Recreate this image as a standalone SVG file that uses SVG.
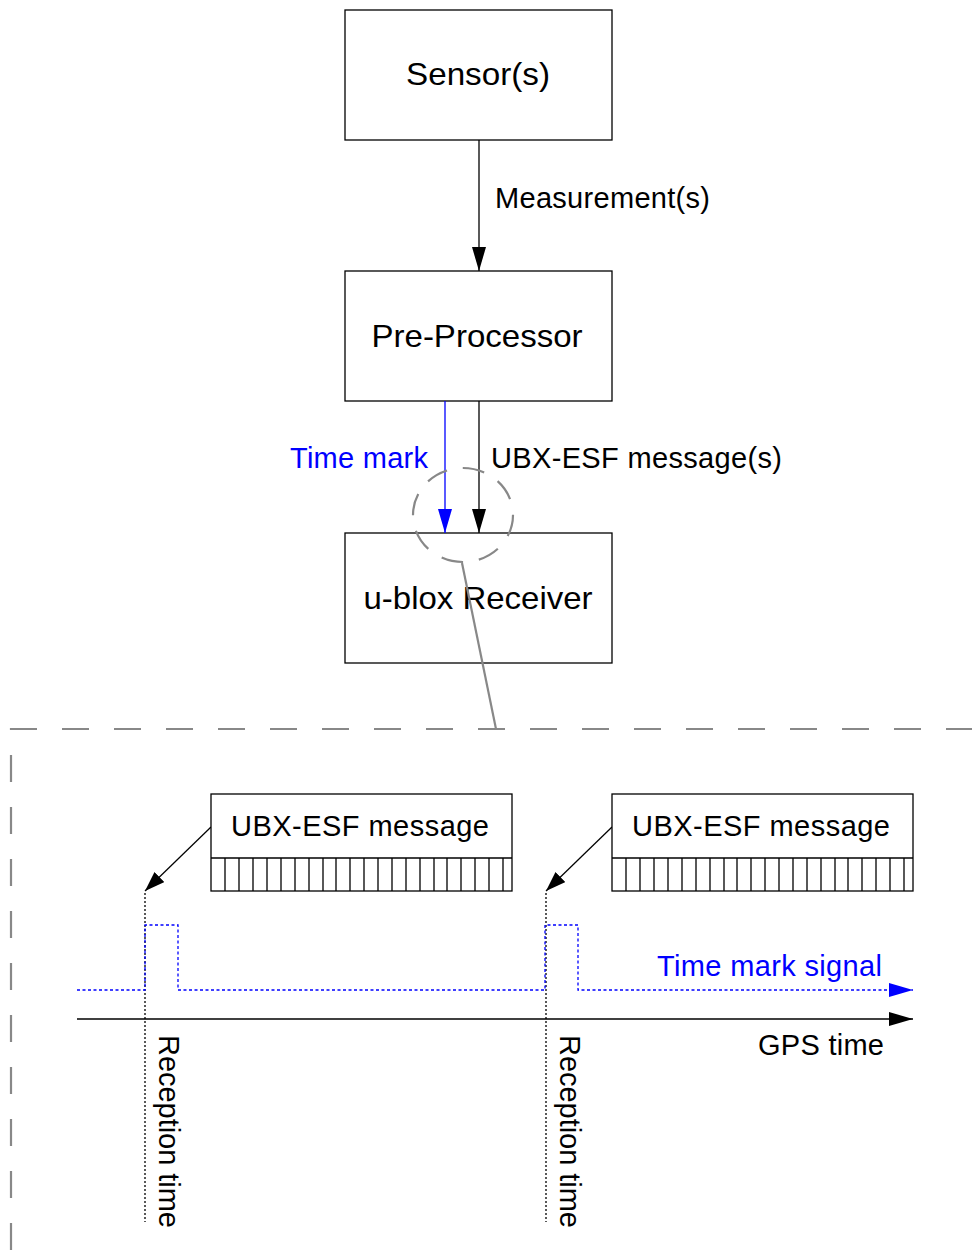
<svg xmlns="http://www.w3.org/2000/svg" width="972" height="1250" viewBox="0 0 972 1250">
<style>
text{font-family:"Liberation Sans",Arial,sans-serif;font-size:29px;fill:#000}
.big{font-size:32px}
.blue{fill:#0000ff}
.box{fill:#fff;stroke:#000;stroke-width:1.3}
.ln{stroke:#000;stroke-width:1.3;fill:none}
.gray{stroke:#888;stroke-width:2.2;fill:none}
.dotk{stroke:#000;stroke-width:1.3;stroke-dasharray:2 2;fill:none}
.dotb{stroke:#0000ff;stroke-width:1.3;stroke-dasharray:3 2.5;fill:none}
</style>
<defs>
<marker id="ak" markerWidth="24" markerHeight="14" refX="24" refY="7" orient="auto" markerUnits="userSpaceOnUse"><path d="M0,0 L24,7 L0,14 Z" fill="#000"/></marker>
<marker id="ab" markerWidth="24" markerHeight="14" refX="24" refY="7" orient="auto" markerUnits="userSpaceOnUse"><path d="M0,0 L24,7 L0,14 Z" fill="#0000ff"/></marker>
<marker id="ak2" markerWidth="20" markerHeight="14" refX="20" refY="7" orient="auto" markerUnits="userSpaceOnUse"><path d="M0,0 L20,7 L0,14 Z" fill="#000"/></marker>
</defs>

<g id="sensors">
<rect class="box" x="345" y="10" width="267" height="130"/>
<text class="big" x="478" y="85" text-anchor="middle" textLength="144" lengthAdjust="spacingAndGlyphs">Sensor(s)</text>
</g>
<g id="preprocessor">
<rect class="box" x="345" y="271" width="267" height="130"/>
<text class="big" x="477" y="347" text-anchor="middle" textLength="211" lengthAdjust="spacingAndGlyphs">Pre-Processor</text>
</g>
<g id="receiver">
<rect class="box" x="345" y="533" width="267" height="130"/>
<text class="big" x="478" y="609" text-anchor="middle" textLength="229" lengthAdjust="spacingAndGlyphs">u-blox Receiver</text>
</g>

<g id="connectors">
<line class="ln" x1="479" y1="140" x2="479" y2="271" marker-end="url(#ak)"/>
<line x1="445" y1="401" x2="445" y2="533" stroke="#0000ff" stroke-width="1.3" marker-end="url(#ab)"/>
<line class="ln" x1="479" y1="401" x2="479" y2="533" marker-end="url(#ak)"/>
<line class="ln" x1="211" y1="827" x2="145" y2="891" marker-end="url(#ak2)"/>
<line class="ln" x1="612" y1="827" x2="546" y2="891" marker-end="url(#ak2)"/>
</g>
<g id="labels">
<text x="495" y="208" textLength="215" lengthAdjust="spacing">Measurement(s)</text>
<text class="blue" x="290" y="468" textLength="138" lengthAdjust="spacing">Time mark</text>
<text x="491" y="468" textLength="291" lengthAdjust="spacing">UBX-ESF message(s)</text>
</g>

<g id="detail-frame">
<path class="gray" d="M11,1250 V729 H972" stroke-dasharray="27 25"/>
<ellipse class="gray" cx="463" cy="515" rx="50" ry="47" stroke-dasharray="22 16"/>
<line class="gray" x1="462" y1="563" x2="496" y2="729"/>
</g>

<g id="message1">
<rect class="box" x="211" y="794" width="301" height="97"/>
<line class="ln" x1="211" y1="858" x2="512" y2="858"/>
<path class="ln" d="M225,858V891M239,858V891M253,858V891M267,858V891M281,858V891M295,858V891M309,858V891M323,858V891M336,858V891M350,858V891M364,858V891M378,858V891M392,858V891M406,858V891M420,858V891M434,858V891M447,858V891M461,858V891M475,858V891M489,858V891M503,858V891"/>
<text x="231" y="836" textLength="258" lengthAdjust="spacing">UBX-ESF message</text>
</g>
<g id="message2">
<rect class="box" x="612" y="794" width="301" height="97"/>
<line class="ln" x1="612" y1="858" x2="913" y2="858"/>
<path class="ln" d="M626,858V891M640,858V891M654,858V891M668,858V891M682,858V891M696,858V891M710,858V891M724,858V891M737,858V891M751,858V891M765,858V891M779,858V891M793,858V891M807,858V891M821,858V891M835,858V891M848,858V891M862,858V891M876,858V891M890,858V891M904,858V891"/>
<text x="632" y="836" textLength="258" lengthAdjust="spacing">UBX-ESF message</text>
</g>

<g id="timeline">
<line class="dotk" x1="145" y1="893" x2="145" y2="1222"/>
<line class="dotk" x1="546" y1="893" x2="546" y2="1222"/>
<path class="dotb" d="M77,990 H145 V925 H178 V990 H545 V925 H578 V990 H913" marker-end="url(#ab)"/>
<line class="ln" x1="77" y1="1019" x2="913" y2="1019" marker-end="url(#ak)"/>
<text class="blue" x="657" y="976" textLength="225" lengthAdjust="spacing">Time mark signal</text>
<text x="758" y="1055" textLength="126" lengthAdjust="spacing">GPS time</text>
<text transform="translate(159,1035) rotate(90)" textLength="193" lengthAdjust="spacing">Reception time</text>
<text transform="translate(560,1035) rotate(90)" textLength="193" lengthAdjust="spacing">Reception time</text>
</g>
</svg>
